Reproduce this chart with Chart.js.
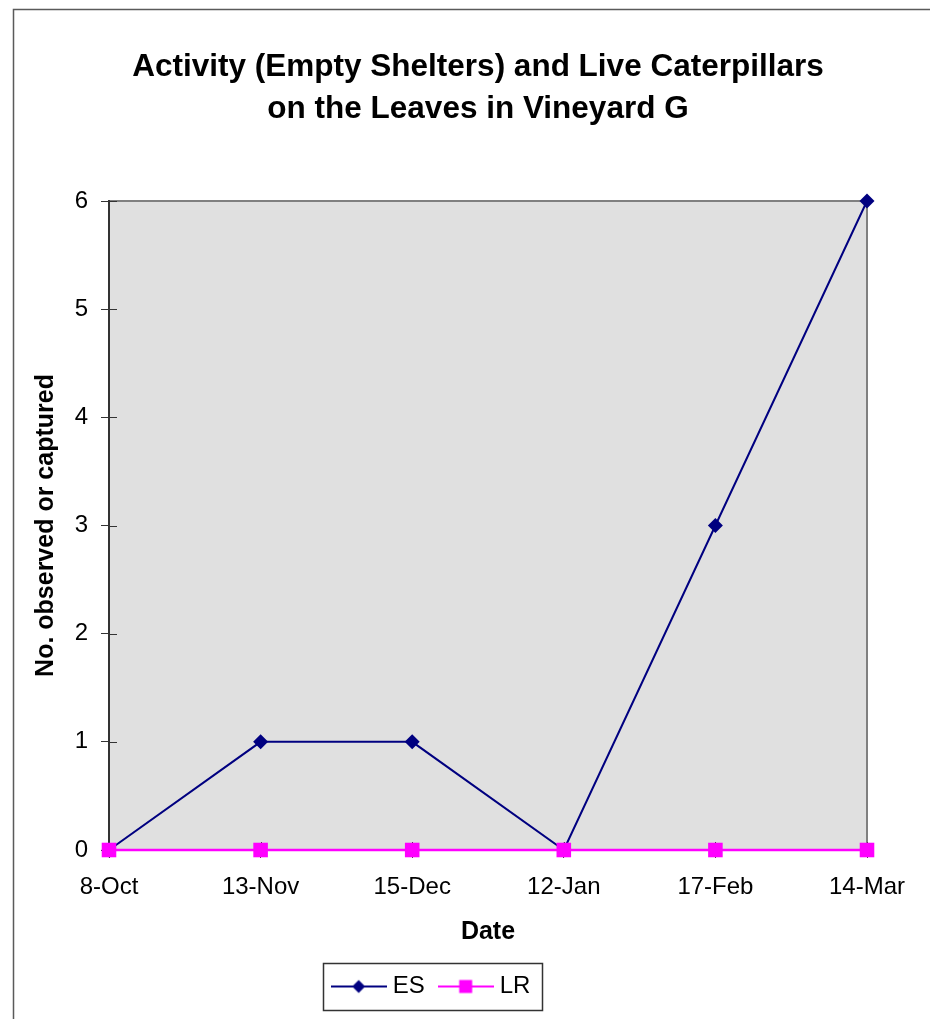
<!DOCTYPE html>
<html>
<head>
<meta charset="utf-8">
<title>Activity (Empty Shelters) and Live Caterpillars on the Leaves in Vineyard G</title>
<script src="https://cdn.jsdelivr.net/npm/chart.js@4/dist/chart.umd.min.js"></script>
<style>
  html, body { margin: 0; padding: 0; background: #ffffff; }
  canvas { display: block; }
</style>
</head>
<body>
<canvas id="chart" width="930" height="1019"></canvas>
<script>
// Sampling dates and counts per visit
const dates = ['8-Oct', '13-Nov', '15-Dec', '12-Jan', '17-Feb', '14-Mar'];
const emptyShelters = [0, 1, 1, 0, 3, 6];     // ES
const liveCaterpillars = [0, 0, 0, 0, 0, 0];  // LR
const yTicks = [0, 1, 2, 3, 4, 5, 6];
const titleLines = ['Activity (Empty Shelters) and Live Caterpillars', 'on the Leaves in Vineyard G'];

const FONT = '"Liberation Sans", Arial, Helvetica, sans-serif';
const NAVY = '#000080';
const MAGENTA = '#ff00ff';

// Legend swatches: a short line with the series marker in the middle
function swatch(color, shape) {
  const c = document.createElement('canvas');
  c.width = 56; c.height = 16;
  const g = c.getContext('2d');
  g.strokeStyle = color;
  g.lineWidth = 2;
  g.beginPath(); g.moveTo(0, 8); g.lineTo(56, 8); g.stroke();
  g.fillStyle = color;
  g.beginPath();
  if (shape === 'diamond') {
    g.moveTo(28, 1.5); g.lineTo(34.5, 8); g.lineTo(28, 14.5); g.lineTo(21.5, 8);
  } else {
    g.rect(21.5, 1.5, 13, 13);
  }
  g.closePath(); g.fill();
  return c;
}

const frame = {
  id: 'frame',
  beforeDraw(chart) {
    const {ctx, chartArea: a} = chart;
    ctx.save();
    ctx.fillStyle = '#ffffff';
    ctx.fillRect(0, 0, chart.width, chart.height);
    // outer chart border
    ctx.strokeStyle = '#5a5a5a';
    ctx.lineWidth = 1.5;
    ctx.strokeRect(13.5, 9.5, 2000, 2000);
    // plot area
    ctx.fillStyle = '#e0e0e0';
    ctx.fillRect(a.left, a.top, a.right - a.left, a.bottom - a.top);
    ctx.strokeStyle = '#808080';
    ctx.lineWidth = 2;
    ctx.strokeRect(a.left, a.top, a.right - a.left, a.bottom - a.top);
    ctx.restore();
  },
  afterLayout(chart) {
    // centre the title block over the plot
    const t = chart.titleBlock;
    if (t) { t.left = 26; t.right = 930; }
  },
  beforeDatasetsDraw(chart) {
    // tick marks crossing into the plot area
    const {ctx, chartArea: a, scales} = chart;
    ctx.save();
    ctx.strokeStyle = '#333333';
    ctx.lineWidth = 1;
    ctx.beginPath();
    scales.y.ticks.forEach((t, i) => {
      const y = Math.round(scales.y.getPixelForTick(i)) + 0.5;
      ctx.moveTo(a.left, y); ctx.lineTo(a.left + 8, y);
    });
    scales.x.ticks.forEach((t, i) => {
      const x = Math.round(scales.x.getPixelForTick(i)) + 0.5;
      ctx.moveTo(x, a.bottom); ctx.lineTo(x, a.bottom - 8);
    });
    ctx.stroke();
    ctx.restore();
  },
  afterDraw(chart) {
    // box around the legend
    const lg = chart.legend;
    if (!lg || !lg.legendHitBoxes || !lg.legendHitBoxes.length) return;
    const hb = lg.legendHitBoxes;
    const left = Math.min(...hb.map(h => h.left));
    const right = Math.max(...hb.map(h => h.left + h.width));
    const cy = hb[0].top + hb[0].height / 2;
    const ctx = chart.ctx;
    ctx.save();
    ctx.strokeStyle = '#333333';
    ctx.lineWidth = 1.5;
    ctx.strokeRect(Math.round(left - 14) + 0.5, Math.round(cy - 23.5) + 0.5, Math.round(right - left + 25), 47);
    ctx.restore();
  }
};

new Chart(document.getElementById('chart'), {
  type: 'line',
  data: {
    labels: dates,
    datasets: [
      {
        label: 'ES',
        data: emptyShelters,
        borderColor: NAVY,
        backgroundColor: NAVY,
        borderWidth: 2,
        pointStyle: 'rectRot',
        pointRadius: 7.5,
        pointBorderWidth: 0,
        pointBackgroundColor: NAVY,
        pointBorderColor: NAVY,
        tension: 0,
        clip: false,
        order: 1
      },
      {
        label: 'LR',
        data: liveCaterpillars,
        borderColor: MAGENTA,
        backgroundColor: MAGENTA,
        borderWidth: 2.5,
        pointStyle: 'rect',
        pointRadius: 10.3,
        pointBorderWidth: 0,
        pointBackgroundColor: MAGENTA,
        pointBorderColor: MAGENTA,
        tension: 0,
        clip: false,
        order: 0
      }
    ]
  },
  options: {
    responsive: false,
    animation: false,
    devicePixelRatio: 1,
    layout: { padding: { left: 0, right: 63, top: 0, bottom: 10.5 } },
    plugins: {
      title: {
        display: true,
        text: titleLines,
        color: '#000000',
        font: { family: FONT, size: 31.5, weight: 'bold', lineHeight: 42 / 31.5 },
        padding: { top: 46, bottom: 71 }
      },
      legend: {
        display: true,
        position: 'bottom',
        align: 'center',
        labels: {
          color: '#000000',
          font: { family: FONT, size: 24 },
          padding: 19,
          usePointStyle: true,
          pointStyleWidth: 44,
          generateLabels(chart) {
            return [
              { text: 'ES', pointStyle: swatch(NAVY, 'diamond'), fontColor: '#000', datasetIndex: 0, hidden: false, lineWidth: 0, strokeStyle: NAVY, fillStyle: NAVY },
              { text: 'LR', pointStyle: swatch(MAGENTA, 'square'), fontColor: '#000', datasetIndex: 1, hidden: false, lineWidth: 0, strokeStyle: MAGENTA, fillStyle: MAGENTA }
            ];
          }
        }
      },
      tooltip: { enabled: false }
    },
    scales: {
      x: {
        type: 'category',
        offset: false,
        grid: {
          display: true,
          drawOnChartArea: false,
          drawTicks: true,
          tickLength: 8,
          color: '#333333',
          lineWidth: 1,
          offset: false
        },
        border: { display: true, color: '#808080', width: 2 },
        ticks: {
          color: '#000000',
          font: { family: FONT, size: 24 },
          padding: 15,
          maxRotation: 0,
          autoSkip: false
        },
        title: {
          display: true,
          text: 'Date',
          color: '#000000',
          font: { family: FONT, size: 25, weight: 'bold', lineHeight: 1.2 },
          padding: { top: 4, bottom: 8.5 }
        },
        afterFit(scale) { scale.height = 105.5; }
      },
      y: {
        type: 'linear',
        min: 0,
        max: 6,
        grid: {
          display: true,
          drawOnChartArea: false,
          drawTicks: true,
          tickLength: 8,
          color: '#333333',
          lineWidth: 1
        },
        border: { display: true, color: '#333333', width: 2 },
        afterBuildTicks(scale) { scale.ticks = yTicks.map(v => ({ value: v })); },
        ticks: {
          color: '#000000',
          font: { family: FONT, size: 24 },
          padding: 13,
          stepSize: 1
        },
        title: {
          display: true,
          text: 'No. observed or captured',
          color: '#000000',
          font: { family: FONT, size: 25, weight: 'bold', lineHeight: 1.2 },
          padding: { top: 31, bottom: 4 }
        },
        afterFit(scale) { scale.width = 109; }
      }
    }
  },
  plugins: [frame]
});
</script>
</body>
</html>
